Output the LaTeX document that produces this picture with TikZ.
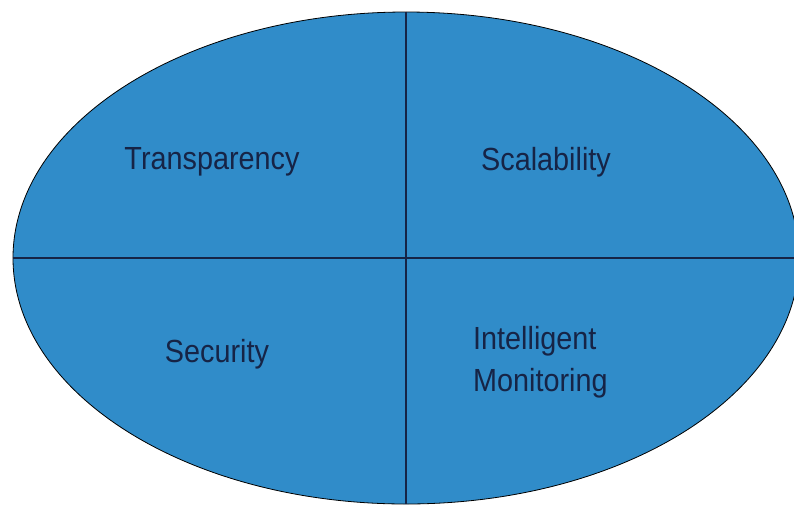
\documentclass[tikz,border=0pt]{standalone}
\usepackage{fontspec}
\setmainfont{Liberation Sans}
\usepackage{tikz}
\usetikzlibrary{shapes, positioning}
\definecolor{ovalblue}{RGB}{48,140,201}
\definecolor{inkblue}{RGB}{22,36,70}
\tikzset{
    base/.style={font=\fontsize{32}{42}\selectfont, text=inkblue, align=left, inner sep=0pt, xscale=0.9},
    oval/.style={draw=black, thick, ellipse, fill=ovalblue, inner sep=0pt},
    line/.style={draw=inkblue, line width=1.4pt}
}

\begin{document}
\begin{tikzpicture}[x=1pt, y=-1pt]
    \useasboundingbox (0,0) rectangle (794,504);
    \clip (0,0) rectangle (794,504);
    \node [oval, minimum width=786pt, minimum height=492pt] (Oval) at (406,258) {};
    \draw [line] (Oval.north) -- (Oval.south);
    \draw [line] (Oval.west) -- (Oval.east);

    \node [base] (Trans) at (212,162) {Transparency};
    \node [base] (Scale) at (546,162) {Scalability};
    \node [base] (Secur) at (217,354) {Security};
    \node [base, anchor=west] (Intel) at (473,362) {Intelligent\\Monitoring};
\end{tikzpicture}
\end{document}
